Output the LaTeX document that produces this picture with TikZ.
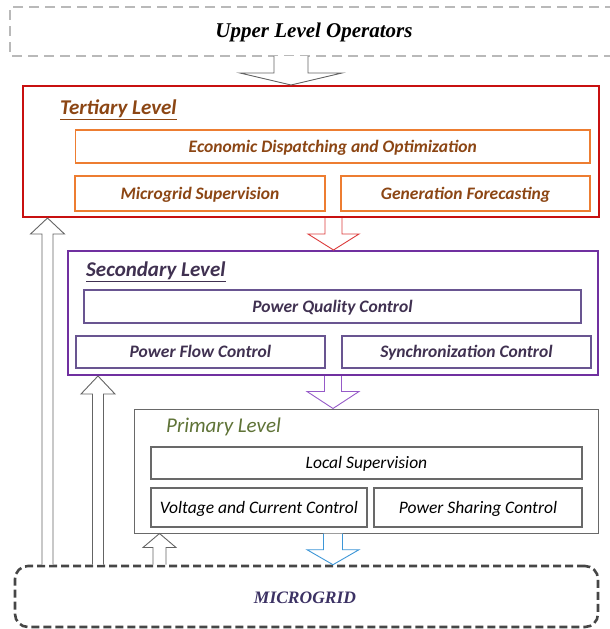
\documentclass[tikz,border=0pt]{standalone}
\usepackage{fontspec}
\setmainfont{Carlito}
\newfontfamily\timesf{Liberation Serif}
\usetikzlibrary{calc}
\definecolor{tred}{RGB}{200,16,16}
\definecolor{torange}{RGB}{237,125,49}
\definecolor{tbrown}{RGB}{140,70,20}
\definecolor{redarr}{RGB}{220,60,60}
\definecolor{spurple}{RGB}{112,48,160}
\definecolor{sinner}{RGB}{105,85,145}
\definecolor{stext}{RGB}{64,49,81}
\definecolor{purarr}{RGB}{150,90,200}
\definecolor{pgray}{RGB}{105,105,105}
\definecolor{pgreen}{RGB}{95,115,55}
\definecolor{bluearr}{RGB}{60,150,215}
\definecolor{grayarr}{RGB}{100,100,100}
\definecolor{upgray}{RGB}{185,185,185}
\definecolor{mggray}{RGB}{70,70,70}
\definecolor{mgtext}{RGB}{60,50,100}
\newcommand\downblock[6]{%
  \draw[#1] let \p1=#2, \p2=#3 in
    ({\x1-#4pt},\y1) -- ({\x1-#4pt},{\y2+#6pt}) -- ({\x1-#5pt},{\y2+#6pt}) -- (\x1,\y2)
    -- ({\x1+#5pt},{\y2+#6pt}) -- ({\x1+#4pt},{\y2+#6pt}) -- ({\x1+#4pt},\y1);}
\newcommand\upblock[6]{%
  \draw[#1] let \p1=#2, \p2=#3 in
    ({\x1-#4pt},\y1) -- ({\x1-#4pt},{\y2-#6pt}) -- ({\x1-#5pt},{\y2-#6pt}) -- (\x1,\y2)
    -- ({\x1+#5pt},{\y2-#6pt}) -- ({\x1+#4pt},{\y2-#6pt}) -- ({\x1+#4pt},\y1);}
\tikzset{
  levelbox/.style={draw, inner sep=0pt, fill=white},
  innerbox/.style={draw, inner sep=0pt, line width=1.1pt, text height=14.7pt, text depth=3.5pt,
    font=\fontsize{17.5}{19}\selectfont\itshape},
  tbox/.style={innerbox, draw=torange, text=tbrown, font=\fontsize{17.5}{19}\selectfont\bfseries\itshape},
  sbox/.style={innerbox, draw=sinner, text=stext, font=\fontsize{17.5}{19}\selectfont\bfseries\itshape},
  pbox/.style={innerbox, draw=pgray, text=black},
  lvltitle/.style={anchor=west, inner sep=0pt, font=\fontsize{21}{23}\selectfont\bfseries\itshape},
  blk/.style={fill=white, line width=0.9pt, line join=miter},
}
\begin{document}
\begin{tikzpicture}[x=1pt,y=-1pt]
\useasboundingbox (0,0) rectangle (610,629);
% upper level operators
\draw[upgray, line width=1.3pt, dash pattern=on 10pt off 6pt] (615,7) -- (10,7) -- (10,56) -- (615,56);
\node[inner sep=0pt, font=\timesf\fontsize{21}{23}\selectfont\bfseries\itshape] (upper) at (314,32.5) {Upper Level Operators};
\coordinate (upbot) at (291,56);
% tertiary
\node[levelbox, draw=tred, line width=2pt, minimum width=576pt, minimum height=131pt] (tert) at (311,151.5) {};
\node[lvltitle, text=tbrown] (ttitle) at (60,110) {\underline{Tertiary Level}};
\node[tbox, minimum width=514.5pt, minimum height=33pt] (econ) at (332.75,146.5) {Economic Dispatching and Optimization};
\node[tbox, minimum width=250pt, minimum height=35pt] (msup) at (200,193.5) {Microgrid Supervision};
\node[tbox, minimum width=249pt, minimum height=35pt] (genf) at (465.5,193.5) {Generation Forecasting};
% secondary
\node[levelbox, draw=spurple, line width=2pt, minimum width=530pt, minimum height=124pt] (sec) at (333,313) {};
\node[lvltitle, text=stext] (stitle) at (86,272) {\underline{Secondary Level}};
\node[sbox, minimum width=497pt, minimum height=33pt] (pqc) at (332.5,306.5) {Power Quality Control};
\node[sbox, minimum width=249pt, minimum height=32pt] (pfc) at (200.5,352) {Power Flow Control};
\node[sbox, minimum width=249pt, minimum height=32pt] (syn) at (466.5,352) {Synchronization Control};
% primary
\node[levelbox, draw=pgray, line width=1pt, minimum width=464pt, minimum height=124pt] (prim) at (366,471) {};
\node[lvltitle, text=pgreen, font=\fontsize{21}{23}\selectfont\itshape] (ptitle) at (166,427) {Primary Level};
\node[pbox, minimum width=431pt, minimum height=32pt] (lsup) at (366.5,463) {Local Supervision};
\node[pbox, minimum width=216pt, minimum height=39pt] (vcc) at (259,507.5) {Voltage and Current Control};
\node[pbox, minimum width=208pt, minimum height=39pt] (psc) at (478,507.5) {Power Sharing Control};
% microgrid
\node[draw=mggray, line width=2.6pt, dash pattern=on 8pt off 4pt, rounded corners=13pt, inner sep=0pt,
      minimum width=583pt, minimum height=61pt] (mg) at (306.5,596.5) {};
\node[inner sep=0pt, text=mgtext, font=\timesf\fontsize{17.5}{20}\selectfont\bfseries\itshape] (mgtxt) at (305,598) {MICROGRID};
% block arrows
\downblock{blk, draw=grayarr}{(upbot)}{(tert.north -| upbot)}{17}{51}{12}
\downblock{blk, draw=redarr}{(tert.south -| 333.5,0)}{(sec.north -| 333.5,0)}{8.5}{25.5}{16}
\downblock{blk, draw=purarr}{(sec.south -| 333,0)}{(prim.north -| 333,0)}{8.5}{26}{17}
\downblock{blk, draw=bluearr}{(prim.south -| 333,0)}{(mg.north -| 333,0)}{9.5}{26}{15}
\upblock{blk, draw=grayarr}{(mg.north -| 47.5,0)}{(tert.south -| 47.5,0)}{5.5}{17}{16}
\upblock{blk, draw=grayarr}{(mg.north -| 98,0)}{(sec.south -| 98,0)}{5.5}{17}{18}
\upblock{blk, draw=grayarr}{(mg.north -| 159.5,0)}{(prim.south -| 159.5,0)}{6.5}{16.5}{14}
\end{tikzpicture}
\end{document}
